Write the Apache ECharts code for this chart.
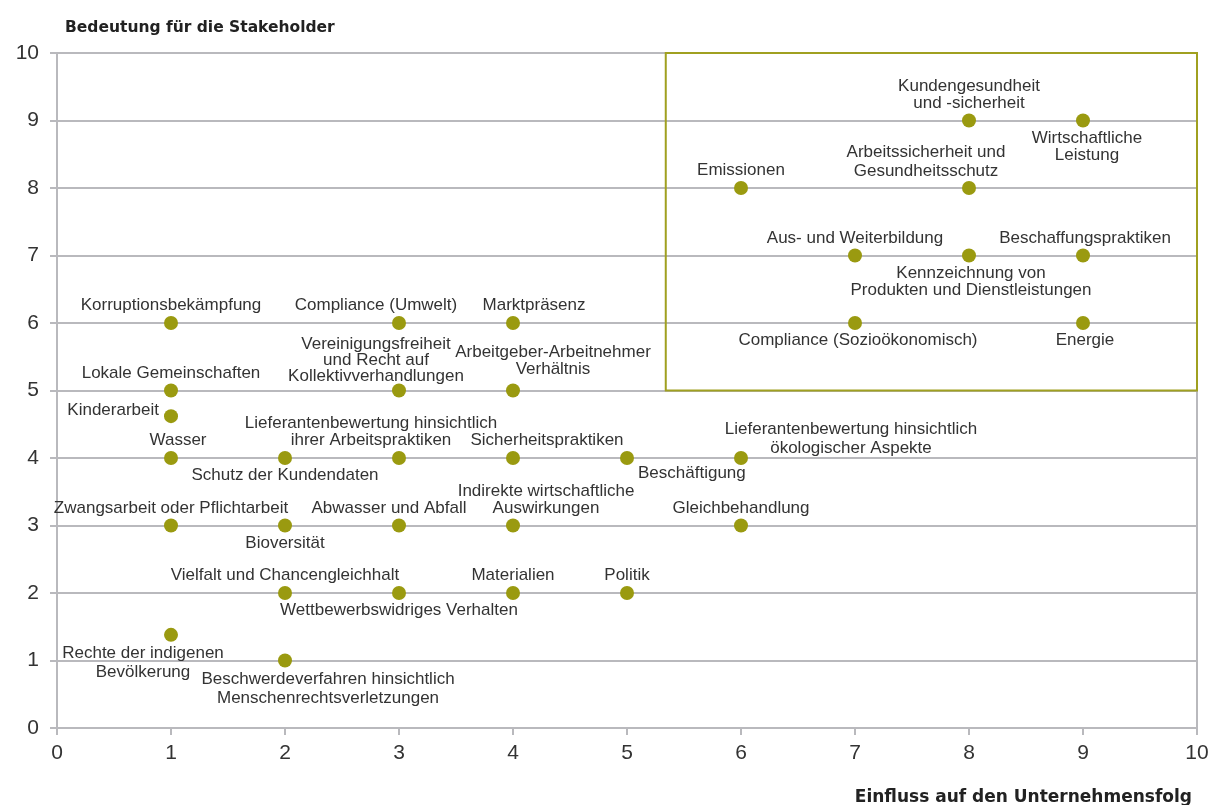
<!DOCTYPE html>
<html>
<head>
<meta charset="utf-8">
<script src="https://cdn.jsdelivr.net/npm/echarts@6/dist/echarts.min.js"></script>
<style>html,body{margin:0;padding:0;background:#fff}#main{width:1214px;height:805px}</style>
</head>
<body>
<div id="main"></div>
<script>
// Themen der Wesentlichkeitsmatrix
var names=[
  'Korruptionsbekämpfung','Compliance (Umwelt)','Marktpräsenz',
  'Lokale Gemeinschaften','Vereinigungsfreiheit\nund Recht auf\nKollektivverhandlungen','Arbeitgeber-Arbeitnehmer\nVerhältnis',
  'Kinderarbeit',
  'Wasser','Schutz der Kundendaten','Lieferantenbewertung hinsichtlich\nihrer Arbeitspraktiken','Sicherheitspraktiken','Beschäftigung','Lieferantenbewertung hinsichtlich\nökologischer Aspekte',
  'Zwangsarbeit oder Pflichtarbeit','Bioversität','Abwasser und Abfall','Indirekte wirtschaftliche\nAuswirkungen','Gleichbehandlung',
  'Vielfalt und Chancengleichhalt','Wettbewerbswidriges Verhalten','Materialien','Politik',
  'Rechte der indigenen\nBevölkerung','Beschwerdeverfahren hinsichtlich\nMenschenrechtsverletzungen',
  'Kundengesundheit\nund -sicherheit','Wirtschaftliche\nLeistung',
  'Emissionen','Arbeitssicherheit und\nGesundheitsschutz',
  'Aus- und Weiterbildung','Kennzeichnung von\nProdukten und Dienstleistungen','Beschaffungspraktiken',
  'Compliance (Sozioökonomisch)','Energie'
];
// Einfluss auf den Unternehmenserfolg
var xs=[1,3,4, 1,3,4, 1, 1,2,3,4,5,6, 1,2,3,4,6, 2,3,4,5, 1,2, 8,9, 6,8, 7,8,9, 7,9];
// Bedeutung für die Stakeholder
var ys=[6,6,6, 5,5,5, 4.62, 4,4,4,4,4,4, 3,3,3,3,3, 2,2,2,2, 1.38,1, 9,9, 8,8, 7,7,7, 6,6];
var xTicks=[0,1,2,3,4,5,6,7,8,9,10];
var yTicks=[0,1,2,3,4,5,6,7,8,9,10];
// hervorgehobener Bereich [x0,y0,x1,y1]
var focusBox=[5.34,10,10,5];

// Lage der Beschriftungen: [position, dx, dy, lineHeight]
var labelLayout=[
  ['top',0,0],['top',-23,0],['top',21,0],
  ['top',0,0],['top',-23,3,16],['top',40,-4],
  ['left',-3,-6],
  ['top',7,0],['bottom',0,0],['top',-28,0],['top',34,0],['right',2,15],['top',110,9,19],
  ['top',0,0],['bottom',0,0],['top',-10,0],['top',33,0],['top',0,0],
  ['top',0,0],['bottom',0,0],['top',0,0],['top',0,0],
  ['bottom',-28,0,19],['bottom',43,0,19],
  ['top',0,0],['bottom',4,0],
  ['top',0,0],['top',-43,2,19],
  ['top',0,0],['bottom',2,0],['top',2,0],
  ['bottom',3,0],['bottom',2,0]
];

var olive='#9a9a10';
var gridGrey='#b9b9bd';
var txt='#333333';
var fontFam='"Liberation Sans", Arial, sans-serif';
var nameFont='"DejaVu Sans", sans-serif';

var pts=names.map(function(n,i){
  var l=labelLayout[i];
  var lb={position:l[0],offset:[l[1],l[2]]};
  if(l[3]) lb.lineHeight=l[3];
  return {name:n,value:[xs[i],ys[i]],label:lb};
});

var myChart=echarts.init(document.getElementById('main'));
var option={
  animation:false,
  title:[
    {text:'Bedeutung für die Stakeholder',left:60,top:15,textStyle:{fontFamily:nameFont,fontSize:15.5,fontWeight:'bold',color:'#222'}},
    {text:'Einfluss auf den Unternehmensfolg',right:17,top:784,textStyle:{fontFamily:nameFont,fontSize:17,fontWeight:'bold',color:'#222'}}
  ],
  grid:{left:57,right:17,top:53,bottom:77,show:true,borderColor:gridGrey,borderWidth:2},
  xAxis:{
    type:'value',min:xTicks[0],max:xTicks[xTicks.length-1],interval:1,
    axisLine:{show:true,lineStyle:{color:gridGrey,width:2}},
    axisTick:{show:true,length:7,lineStyle:{color:gridGrey,width:2}},
    axisLabel:{color:txt,fontSize:21,fontFamily:fontFam,margin:15},
    splitLine:{show:false}
  },
  yAxis:{
    type:'value',min:yTicks[0],max:yTicks[yTicks.length-1],interval:1,
    axisLine:{show:true,lineStyle:{color:gridGrey,width:2}},
    axisTick:{show:true,length:7,lineStyle:{color:gridGrey,width:2}},
    axisLabel:{color:txt,fontSize:21,fontFamily:fontFam,margin:18},
    splitLine:{show:true,lineStyle:{color:gridGrey,width:2}}
  },
  series:[{
    type:'scatter',
    symbolSize:14,
    itemStyle:{color:olive,opacity:1},
    label:{show:true,formatter:'{b}',color:txt,opacity:1,fontSize:17,lineHeight:17,fontFamily:fontFam,distance:2},
    data:pts,
    markArea:{
      silent:true,
      itemStyle:{color:'rgba(0,0,0,0)',borderColor:'#a0a020',borderWidth:2},
      label:{show:false},
      data:[[{coord:[focusBox[0],focusBox[1]]},{coord:[focusBox[2],focusBox[3]]}]]
    }
  }]
};
myChart.setOption(option);
</script>
</body>
</html>
